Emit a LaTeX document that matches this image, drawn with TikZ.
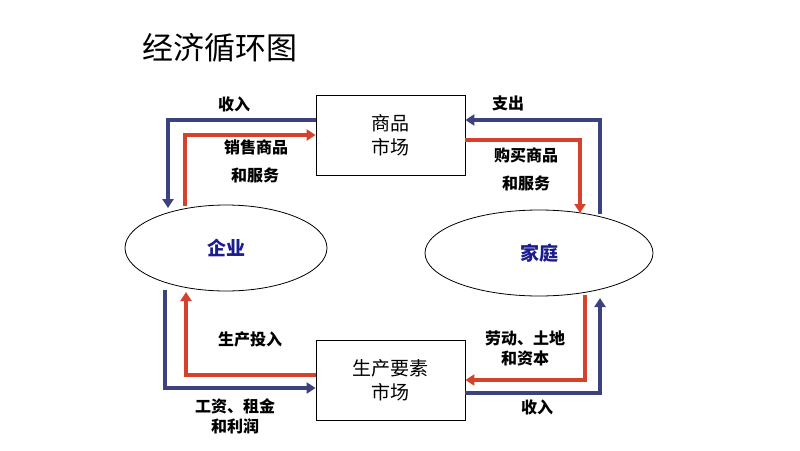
\documentclass[tikz,border=0pt]{standalone}
\usepackage{fontspec}
\setmainfont{Noto Sans CJK SC}
\usepackage{tikz}
\usetikzlibrary{positioning, shapes, arrows.meta}
\usepackage{xcolor}
\definecolor{flowblue}{HTML}{3E4180}
\definecolor{flowred}{HTML}{D6412B}
\definecolor{textblue}{HTML}{1C1C8E}

\tikzset{
    market/.style={draw, thick, minimum width=149pt, minimum height=80pt, align=center, font=\fontsize{19}{24}\selectfont},
    agent/.style={draw, ellipse, thick, text=textblue, font=\fontsize{19}{24}\selectfont\bfseries},
    bflow/.style={flowblue, line width=4pt, -{Triangle[width=11pt,length=9pt]}},
    rflow/.style={flowred, line width=4pt, -{Triangle[width=11pt,length=9pt]}},
    lbl/.style={font=\fontsize{16}{20}\selectfont\bfseries, align=center}
}

\begin{document}
\begin{tikzpicture}[x=1pt, y=-1pt]
        \useasboundingbox (0,0) rectangle (800,450);

        % title
        \node[font=\fontsize{31}{36}\selectfont] (title) at (220,48) {经济循环图};

        % markets
        \node[market] (goods) at (390.5,135) {商品\\市场};
        \node[market] (factor) at (390.5,380) {生产要素\\市场};

        % agents
        \node[agent, minimum width=202pt, minimum height=86pt] (firm) at (226,248) {企业};
        \node[agent, minimum width=228pt, minimum height=86pt] (home) at (539,253) {家庭};

        % arrow ends
        \coordinate (firmin) at (168,208);
        \coordinate (firmout) at (185,206);
        \coordinate (homein) at (580,213);
        \coordinate (homeout) at (600,214);
        \coordinate (firmpay) at (165,290);
        \coordinate (firmget) at (186,292);
        \coordinate (homegive) at (585,295);
        \coordinate (homeget) at (600,298);

        % top loop
        \draw[bflow] ([yshift=15pt]goods.west) -| (firmin);
        \draw[rflow] (firmout) |- (goods.west);
        \draw[bflow] (homeout) |- ([yshift=15pt]goods.east);
        \draw[rflow] ([yshift=-5pt]goods.east) -| (homein);

        % bottom loop
        \draw[bflow] (firmpay) |- ([yshift=-8pt]factor.west);
        \draw[rflow] ([yshift=5pt]factor.west) -| (firmget);
        \draw[rflow] (homegive) |- (factor.east);
        \draw[bflow] ([yshift=-13pt]factor.east) -| (homeget);

        % labels
        \node[lbl] (l1) at (234,104) {收入};
        \node[lbl] (l2) at (256,147) {销售商品};
        \node[lbl] (l3) at (255,175) {和服务};
        \node[lbl] (l4) at (508,103) {支出};
        \node[lbl] (l5) at (526,155) {购买商品};
        \node[lbl] (l6) at (526,183) {和服务};
        \node[lbl] (l7) at (250,339) {生产投入};
        \node[lbl] (l8) at (235,416.5) {工资、租金\\和利润};
        \node[lbl] (l9) at (525,348) {劳动、土地\\和资本};
        \node[lbl] (l10) at (537,407) {收入};
    \end{tikzpicture}
\end{document}
